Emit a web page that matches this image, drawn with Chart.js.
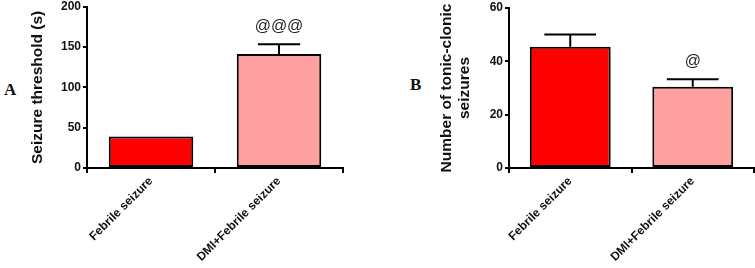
<!DOCTYPE html>
<html>
<head>
<meta charset="utf-8">
<script src="https://cdn.jsdelivr.net/npm/chart.js@4"></script>
<style>
  body { margin: 0; background: #fff; width: 755px; height: 268px; position: relative; overflow: hidden; }
  .panel { position: absolute; top: 0; height: 268px; }
  .letter { position: absolute; font: bold 17px "Liberation Serif", "Times New Roman", serif; color: #111; }
</style>
</head>
<body>
<div class="letter" style="left:4px; top:80px;">A</div>
<div class="letter" style="left:410px; top:75px;">B</div>
<div class="panel" style="left:0; width:350px;"><canvas id="chartA" width="350" height="268"></canvas></div>
<div class="panel" style="left:380px; width:375px;"><canvas id="chartB" width="375" height="268"></canvas></div>
<script>
// groups shared by both panels
const categories = ['Febrile seizure', 'DMI+Febrile seizure'];
const barColors = ['#FF0000', '#FFA0A0'];

// panel A - seizure threshold
const thresholdValues = [39, 141.5];
const thresholdErrors = [0, 12];
const thresholdMarks = ['', '@@@'];

// panel B - tonic-clonic seizures
const tonicValues = [45.5, 30.5];
const tonicErrors = [4.6, 2.8];
const tonicMarks = ['', '@'];

// draws the upward SEM whisker and the significance mark above each bar
const errorBarPlugin = {
    id: 'errorBars',
    afterDatasetsDraw(chart, args, opts) {
        const ctx = chart.ctx;
        const meta = chart.getDatasetMeta(0);
        const yScale = chart.scales.y;
        meta.data.forEach((bar, i) => {
            const val = opts.values[i];
            const err = opts.errors[i];
            const top = yScale.getPixelForValue(val + err);
            const half = bar.width * opts.capRatio / 2;
            ctx.save();
            ctx.strokeStyle = '#000';
            ctx.lineWidth = 2;
            if (err > 0) {
                ctx.beginPath();
                ctx.moveTo(bar.x, bar.y);
                ctx.lineTo(bar.x, top);
                ctx.moveTo(bar.x - half, top);
                ctx.lineTo(bar.x + half, top);
                ctx.stroke();
            }
            if (opts.marks[i]) {
                ctx.fillStyle = '#222';
                ctx.font = '16px "Liberation Sans", Arial, sans-serif';
                ctx.textAlign = 'center';
                ctx.textBaseline = 'bottom';
                ctx.fillText(opts.marks[i], bar.x, top - 10);
            }
            ctx.restore();
        });
    }
};

const tickFont = { family: '"Liberation Sans", Arial, sans-serif', size: 12, weight: 'bold', lineHeight: 1 };
const yTickFont = { family: '"Liberation Sans", Arial, sans-serif', size: 12, weight: 'bold', lineHeight: 0.8 };

function makeChart(id, values, errors, marks, yMax, yStep, title, padLeft, yWidth, opts) {
    const ctx = document.getElementById(id).getContext('2d');
    return new Chart(ctx, {
        type: 'bar',
        data: {
            labels: categories,
            datasets: [{
                data: values,
                backgroundColor: barColors,
                borderColor: '#000',
                borderWidth: 2,
                borderSkipped: false,
                categoryPercentage: 1,
                barPercentage: opts.barPct
            }]
        },
        options: {
            responsive: false,
            animation: false,
            layout: { padding: { top: opts.top, right: opts.right, left: padLeft, bottom: 0 } },
            plugins: {
                legend: { display: false },
                tooltip: { enabled: false },
                errorBars: { values: values, errors: errors, marks: marks, capRatio: opts.capRatio }
            },
            scales: {
                x: {
                    grid: { display: true, drawOnChartArea: false, color: '#000', lineWidth: 2, tickLength: 5 },
                    border: { color: '#000', width: 2 },
                    ticks: {
                        color: '#111',
                        font: tickFont,
                        maxRotation: 45, minRotation: 45, padding: 2
                    },
                    afterFit(scale) { scale.height = 100; }
                },
                y: {
                    min: 0, max: yMax,
                    grid: { display: true, drawOnChartArea: false, color: '#000', lineWidth: 2, tickLength: 4 },
                    border: { color: '#000', width: 2 },
                    ticks: {
                        stepSize: yStep,
                        color: '#111',
                        padding: 2,
                        font: yTickFont
                    },
                    title: {
                        display: true,
                        text: title,
                        color: '#111',
                        padding: { top: 0, bottom: 0 },
                        font: { family: '"Liberation Sans", Arial, sans-serif', size: 15.5, weight: 'bold', lineHeight: 1.16 }
                    },
                    afterFit(scale) { scale.width = yWidth; }
                }
            }
        },
        plugins: [errorBarPlugin]
    });
}

makeChart('chartA', thresholdValues, thresholdErrors, thresholdMarks, 200, 50,
    'Seizure threshold (s)', 29, 58, { top: 5, right: 7, barPct: 0.66, capRatio: 0.5 });
makeChart('chartB', tonicValues, tonicErrors, tonicMarks, 60, 20,
    ['Number of tonic-clonic', 'seizures'], 58, 71, { top: 8, right: 1, barPct: 0.66, capRatio: 0.64 });
</script>
</body>
</html>
